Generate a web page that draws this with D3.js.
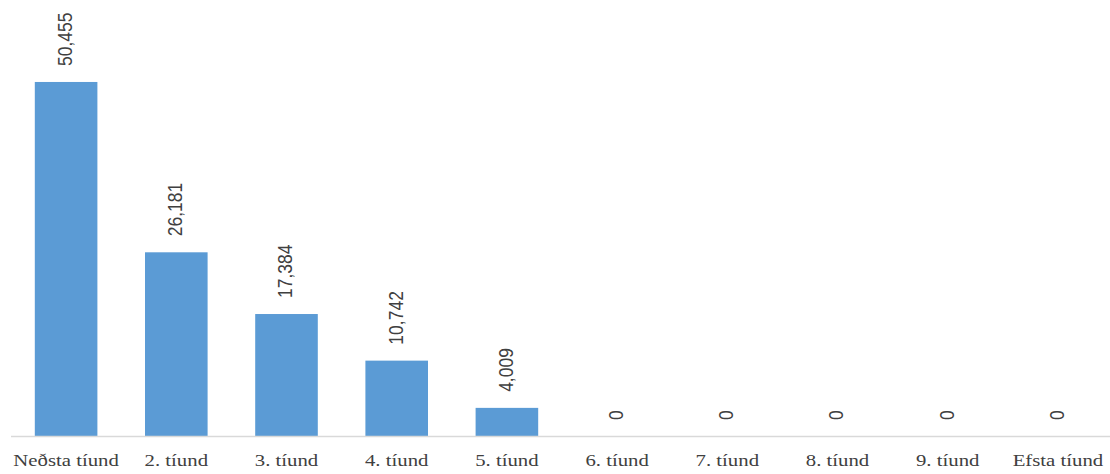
<!DOCTYPE html>
<html>
<head>
<meta charset="utf-8">
<script src="https://cdn.jsdelivr.net/npm/d3@7"></script>
<style>
  html, body { margin: 0; padding: 0; background: #ffffff; }
  svg { display: block; }
</style>
</head>
<body>
<svg id="chart" width="1110" height="474"></svg>
<script>
// Deciles (tíundir) and their values
const categories = ["Neðsta tíund", "2. tíund", "3. tíund", "4. tíund", "5. tíund",
                    "6. tíund", "7. tíund", "8. tíund", "9. tíund", "Efsta tíund"];
const values = [50455, 26181, 17384, 10742, 4009, 0, 0, 0, 0, 0];

const width = 1110, height = 474;
const svg = d3.select("#chart");

const x = d3.scaleBand()
  .domain(categories)
  .range([11, 1113])
  .paddingInner(0.432)
  .paddingOuter(0.216);

const y = d3.scaleLinear()
  .domain([0, 60000])
  .range([436, 15]);

const fmt = d3.format(",");

// Bars
svg.append("g")
  .selectAll("rect")
  .data(values)
  .join("rect")
  .attr("x", (d, i) => x(categories[i]))
  .attr("width", x.bandwidth())
  .attr("y", d => y(d))
  .attr("height", d => y(0) - y(d))
  .attr("fill", "#5b9bd5");

// Category axis
const axis = svg.append("g")
  .attr("transform", `translate(0,${y(0)})`)
  .call(d3.axisBottom(x).tickSize(0).tickPadding(0));
axis.select(".domain")
  .attr("d", `M11,0.5H1110`)
  .attr("stroke", "#d9d9d9")
  .attr("stroke-width", 1.5);
axis.selectAll(".tick text")
  .attr("font-family", "'Liberation Serif', 'Times New Roman', serif")
  .attr("font-size", 17.6)
  .attr("fill", "#404040")
  .attr("dy", null)
  .attr("y", 0)
  .attr("transform", "translate(0,30) scale(1.18,1)")
  .attr("text-anchor", "middle");

// Value labels, rotated
svg.append("g")
  .selectAll("text")
  .data(values)
  .join("text")
  .attr("transform", (d, i) =>
    `translate(${x(categories[i]) + x.bandwidth() / 2 - 1},${y(d) - 16}) scale(1.15,1) rotate(-90)`)
  .attr("dominant-baseline", "central")
  .attr("text-anchor", "start")
  .attr("font-family", "'Liberation Sans', Arial, sans-serif")
  .attr("font-size", 17.5)
  .attr("fill", "#404040")
  .text(d => fmt(d));
</script>
</body>
</html>
